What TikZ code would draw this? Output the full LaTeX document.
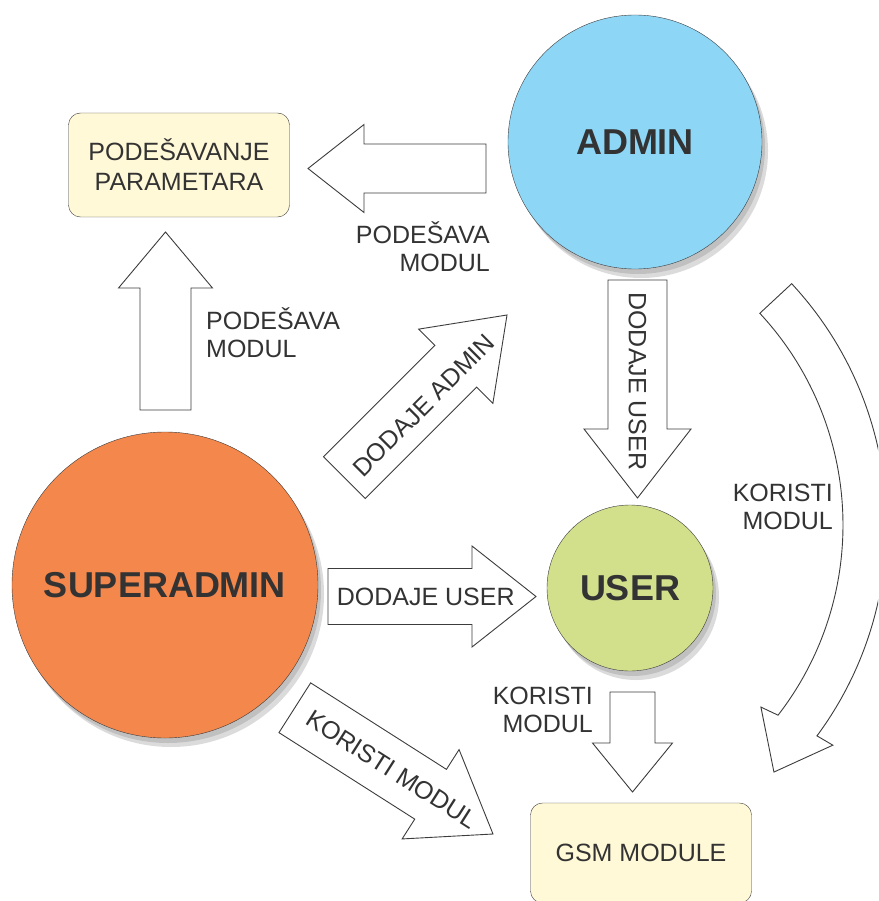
\documentclass[tikz,border=0pt]{standalone}
\usepackage{fontspec}
\setmainfont{Liberation Sans}
\usetikzlibrary{shadows,calc}

\definecolor{txtgray}{HTML}{333333}
\definecolor{linegray}{HTML}{3C3C3C}
\definecolor{superorange}{HTML}{F4874B}
\definecolor{adminblue}{HTML}{8ED6F5}
\definecolor{usergreen}{HTML}{D2E08C}
\definecolor{boxyellow}{HTML}{FFF9D7}

% block arrow: name, tip, angle, length, shaft half width, head half width, head length
\newcommand{\fatarrow}[7]{%
    \begin{scope}[shift={(#2)},rotate=#3]
        \draw[fat] (0,0) -- (-#7,#6) -- (-#7,#5) -- (-#4,#5) -- (-#4,-#5) -- (-#7,-#5) -- (-#7,-#6) -- cycle;
        \coordinate (#1-tip) at (0,0);
        \coordinate (#1-tail) at (-#4,0);
    \end{scope}}

\begin{document}
\begin{tikzpicture}[x=1pt,y=-1pt,
    role/.style={draw=linegray,circle,inner sep=0pt,text=txtgray,font=\fontsize{36}{40}\selectfont\bfseries,
      drop shadow={shadow xshift=3pt,shadow yshift=-5pt,fill=black,opacity=0.12},
      drop shadow={shadow xshift=6pt,shadow yshift=-9pt,fill=black,opacity=0.14}},
    module/.style={draw=linegray,fill=boxyellow,rectangle,rounded corners=12pt,text=txtgray,align=center,
      minimum width=221pt,font=\fontsize{25}{30}\selectfont},
    fat/.style={draw=linegray,fill=white,line width=0.9pt,line join=miter},
    lbl/.style={text=txtgray,inner sep=0pt,font=\fontsize{25}{28}\selectfont}]
        \useasboundingbox (0,0) rectangle (878,901);
        \clip (0,0) rectangle (878,901);
        %% Roles
        \node[role,fill=adminblue,minimum size=254pt] (admin) at (635,142) {ADMIN};
        \node[role,fill=superorange,minimum size=306pt] (super) at (165,585) {SUPERADMIN};
        \node[role,fill=usergreen,minimum size=166pt] (user) at (630,588) {USER};
        %% Modules
        \node[module,minimum height=104pt] (param) at (179,165) {PODEŠAVANJE\\PARAMETARA};
        \node[module,minimum height=100pt] (gsm) at (641,853) {GSM MODULE};
        %% Block arrows
        \fatarrow{setP}{308,168.5}{180}{178}{24.5}{44}{56}
        \fatarrow{supP}{165.5,232}{90}{178}{25.5}{47}{56}
        \fatarrow{addA}{507,315}{45}{230}{29.5}{52.5}{72.5}
        \fatarrow{addU1}{637.5,498}{-90}{218}{29.5}{53.5}{69}
        \fatarrow{addU2}{536,596.5}{0}{208}{28}{50.5}{64}
        \fatarrow{useG}{632.5,792}{-90}{100}{22.5}{40}{49}
        \fatarrow{supG}{493,834}{-32.5}{235}{29.5}{53}{74}
        %% Bent arrow
        \coordinate (bend) at (532,525);
        \draw[fat] ([shift={(-42.9:311)}]bend) arc[start angle=-42.9,end angle=37.7,radius=311]
            -- ([shift={(38.5:292.5)}]bend) -- ([shift={(45.6:345.8)}]bend) -- ([shift={(36.2:372.8)}]bend)
            -- ([shift={(36.5:354.5)}]bend) arc[start angle=36.5,end angle=-42.9,radius=354.5] -- cycle;
        %% Labels
        \node[lbl] (addU2txt) at ($(addU2-tail)!0.47!(addU2-tip)$) {DODAJE USER};
        \node[lbl,rotate=-90] (addU1txt) at ($(addU1-tail)!0.465!(addU1-tip)$) {DODAJE USER};
        \node[lbl,rotate=45] (addAtxt) at ($(addA-tail)!0.47!(addA-tip)+(3,4)$) {DODAJE ADMIN};
        \node[lbl,rotate=-32.5] (supGtxt) at ($(supG-tail)!0.49!(supG-tip)$) {KORISTI MODUL};
        \node[lbl,align=right,anchor=east] (setPtxt) at (490,247) {PODEŠAVA\\MODUL};
        \node[lbl,align=left,anchor=west] (supPtxt) at (206,333) {PODEŠAVA\\MODUL};
        \node[lbl,align=right,anchor=east] (bendtxt) at (833,507) {KORISTI\\MODUL};
        \node[lbl,align=right,anchor=east] (useGtxt) at (593,710) {KORISTI\\MODUL};
    \end{tikzpicture}
\end{document}
